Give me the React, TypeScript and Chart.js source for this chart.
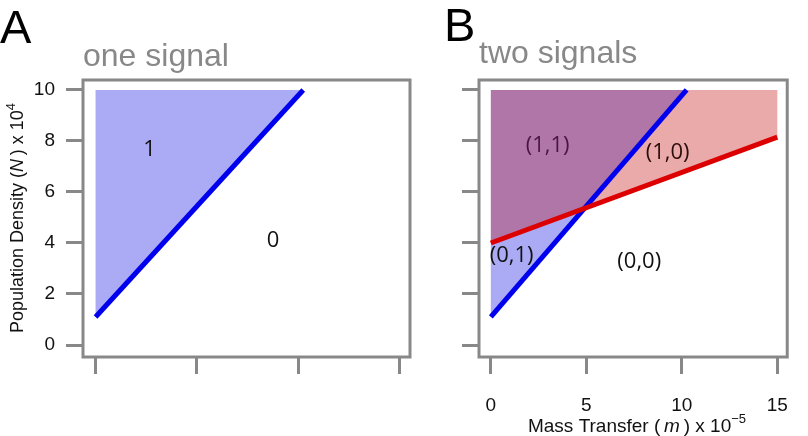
import React, { useEffect, useRef } from 'react';
import { Chart, registerables } from 'chart.js';

Chart.register(...registerables);

// ---- data ----
const massTicks = [0, 5, 10, 15];
const densityTicks = [0, 2, 4, 6, 8, 10];
const blueLineM = [0, 10.25];
const blueLineN = [1.1, 10];
const redLineM = [0, 15];
const redLineN = [4.0, 8.15];
const topN = 10;

const labelsA = ['1', '0'];
const labelsAM = [2.67, 8.76];
const labelsAN = [7.65, 4.08];

const labelsB = ['(1,1)', '(1,0)', '(0,1)', '(0,0)'];
const labelsBM = [2.97, 9.26, 1.09, 7.77];
const labelsBN = [7.8, 7.53, 3.49, 3.25];
const labelsBColor = ['#4a1545', '#2a0d0d', '#111111', '#111111'];

// derived: crossing of blue and red lines
const blueSlope = (blueLineN[1] - blueLineN[0]) / (blueLineM[1] - blueLineM[0]);
const redSlope = (redLineN[1] - redLineN[0]) / (redLineM[1] - redLineM[0]);
const crossM = (redLineN[0] - blueLineN[0]) / (blueSlope - redSlope);
const crossN = blueLineN[0] + blueSlope * crossM;

const SANS = '"Liberation Sans", Arial, sans-serif';
const GRAY = '#888888';

type Seg = { t: string; italic?: boolean; sup?: boolean };

function drawRich(ctx: CanvasRenderingContext2D, segs: Seg[], cx: number, baseY: number, size: number, color: string) {
  const fontOf = (s: Seg) => `${s.italic ? 'italic ' : ''}${s.sup ? Math.round(size * 0.7) : size}px ${SANS}`;
  let total = 0;
  const widths = segs.map((s) => {
    ctx.font = fontOf(s);
    const w = ctx.measureText(s.t).width;
    total += w;
    return w;
  });
  let x = cx - total / 2;
  ctx.fillStyle = color;
  ctx.textAlign = 'left';
  ctx.textBaseline = 'alphabetic';
  segs.forEach((s, i) => {
    ctx.font = fontOf(s);
    ctx.fillText(s.t, x, s.sup ? baseY - size * 0.45 : baseY);
    x += widths[i];
  });
}

function pts(ms: number[], ns: number[]) {
  return ms.map((m, i) => ({ x: m, y: ns[i] }));
}

function makeConfig(panel: 'A' | 'B'): any {
  const isA = panel === 'A';
  const datasets: any[] = [];
  const shape = (data: any[], color: string) => ({
    data,
    showLine: true,
    fill: 'shape',
    backgroundColor: color,
    borderWidth: 0,
    pointRadius: 0,
    tension: 0,
    order: 2,
  });
  const line = (data: any[], color: string, order: number) => ({
    data,
    showLine: true,
    fill: false,
    borderColor: color,
    borderWidth: 5,
    borderCapStyle: 'butt',
    pointRadius: 0,
    tension: 0,
    order,
  });

  if (isA) {
    datasets.push(
      line(pts(blueLineM, blueLineN), '#0000ee', 0),
      shape(
        [
          { x: blueLineM[0], y: topN },
          { x: blueLineM[0], y: blueLineN[0] },
          { x: blueLineM[1], y: topN },
        ],
        '#aaaaf5'
      )
    );
  } else {
    datasets.push(
      line(pts(redLineM, redLineN), '#dd0000', 0),
      line(pts(blueLineM, blueLineN), '#0000ee', 1),
      shape(
        [
          { x: 0, y: redLineN[0] },
          { x: crossM, y: crossN },
          { x: blueLineM[1], y: topN },
          { x: 0, y: topN },
        ],
        '#b076a8'
      ),
      shape(
        [
          { x: crossM, y: crossN },
          { x: redLineM[1], y: redLineN[1] },
          { x: redLineM[1], y: topN },
          { x: blueLineM[1], y: topN },
        ],
        '#eaaaaa'
      ),
      shape(
        [
          { x: 0, y: blueLineN[0] },
          { x: crossM, y: crossN },
          { x: 0, y: redLineN[0] },
        ],
        '#aaaaf5'
      )
    );
  }

  const overlay = {
    id: 'overlay' + panel,
    afterDraw(chart: any) {
      const ctx: CanvasRenderingContext2D = chart.ctx;
      const ca = chart.chartArea;
      const xs = chart.scales.x;
      const ys = chart.scales.y;
      ctx.save();
      // box
      ctx.strokeStyle = GRAY;
      ctx.lineWidth = 3;
      ctx.strokeRect(ca.left, ca.top, ca.right - ca.left, ca.bottom - ca.top);

      // region labels
      const texts = isA ? labelsA : labelsB;
      const ms = isA ? labelsAM : labelsBM;
      const ns = isA ? labelsAN : labelsBN;
      ctx.font = `22px "Open Sans", sans-serif`;
      ctx.textAlign = 'center';
      ctx.textBaseline = 'middle';
      texts.forEach((t, i) => {
        ctx.fillStyle = isA ? '#111111' : labelsBColor[i];
        ctx.fillText(t, xs.getPixelForValue(ms[i]), ys.getPixelForValue(ns[i]));
      });

      // panel letter and title
      ctx.textAlign = 'left';
      ctx.textBaseline = 'alphabetic';
      ctx.fillStyle = '#000000';
      ctx.font = `47px ${SANS}`;
      ctx.fillText(isA ? 'A' : 'B', isA ? 0 : 24, isA ? 43 : 41);
      ctx.fillStyle = GRAY;
      ctx.font = `32px ${SANS}`;
      ctx.fillText(isA ? 'one signal' : 'two signals', isA ? 83 : 59, isA ? 66 : 63);

      if (isA) {
        ctx.save();
        ctx.translate(23, 218);
        ctx.rotate(-Math.PI / 2);
        drawRich(
          ctx,
          [
            { t: 'Population Density (' },
            { t: 'N', italic: true },
            { t: '\u2009) x 10' },
            { t: '4', sup: true },
          ],
          0,
          0,
          18,
          '#111111'
        );
        ctx.restore();
      } else {
        drawRich(
          ctx,
          [
            { t: 'Mass Transfer (\u2009' },
            { t: 'm', italic: true },
            { t: '\u2009) x 10' },
            { t: '\u22125', sup: true },
          ],
          217,
          432,
          19,
          '#111111'
        );
      }
      ctx.restore();
    },
  };

  return {
    type: 'scatter',
    data: { datasets },
    plugins: [overlay],
    options: {
      responsive: false,
      animation: false,
      layout: { padding: { left: 0, top: 80, right: isA ? 10 : 4, bottom: 0 } },
      plugins: { legend: { display: false }, tooltip: { enabled: false } },
      scales: {
        x: {
          type: 'linear',
          min: -0.62,
          max: 15.52,
          afterBuildTicks: (s: any) => {
            s.ticks = massTicks.map((v) => ({ value: v }));
          },
          afterFit: (s: any) => {
            s.height = 79;
          },
          grid: { drawOnChartArea: false, drawTicks: true, tickLength: 17, color: GRAY, lineWidth: 3 },
          border: { display: false },
          ticks: {
            display: !isA,
            autoSkip: false,
            maxRotation: 0,
            padding: 20,
            color: '#111111',
            font: { family: SANS, size: 19 },
          },
        },
        y: {
          type: 'linear',
          min: -0.47,
          max: 10.39,
          afterBuildTicks: (s: any) => {
            s.ticks = densityTicks.map((v) => ({ value: v }));
          },
          afterFit: (s: any) => {
            s.width = isA ? 83 : 59;
          },
          grid: { drawOnChartArea: false, drawTicks: true, tickLength: 17, color: GRAY, lineWidth: 3 },
          border: { display: false },
          ticks: {
            display: isA,
            autoSkip: false,
            padding: 11,
            color: '#111111',
            font: { family: SANS, size: 19 },
          },
        },
      },
    },
  };
}

export default function App() {
  const refA = useRef<HTMLCanvasElement>(null);
  const refB = useRef<HTMLCanvasElement>(null);
  useEffect(() => {
    const a = new Chart(refA.current as HTMLCanvasElement, makeConfig('A'));
    const b = new Chart(refB.current as HTMLCanvasElement, makeConfig('B'));
    return () => {
      a.destroy();
      b.destroy();
    };
  }, []);
  return (
    <div style={{ position: 'absolute', left: 0, top: 0, width: 808, height: 436, background: '#ffffff' }}>
      <canvas ref={refA} width={420} height={436} style={{ position: 'absolute', left: 0, top: 0 }} />
      <canvas ref={refB} width={388} height={436} style={{ position: 'absolute', left: 420, top: 0 }} />
    </div>
  );
}
